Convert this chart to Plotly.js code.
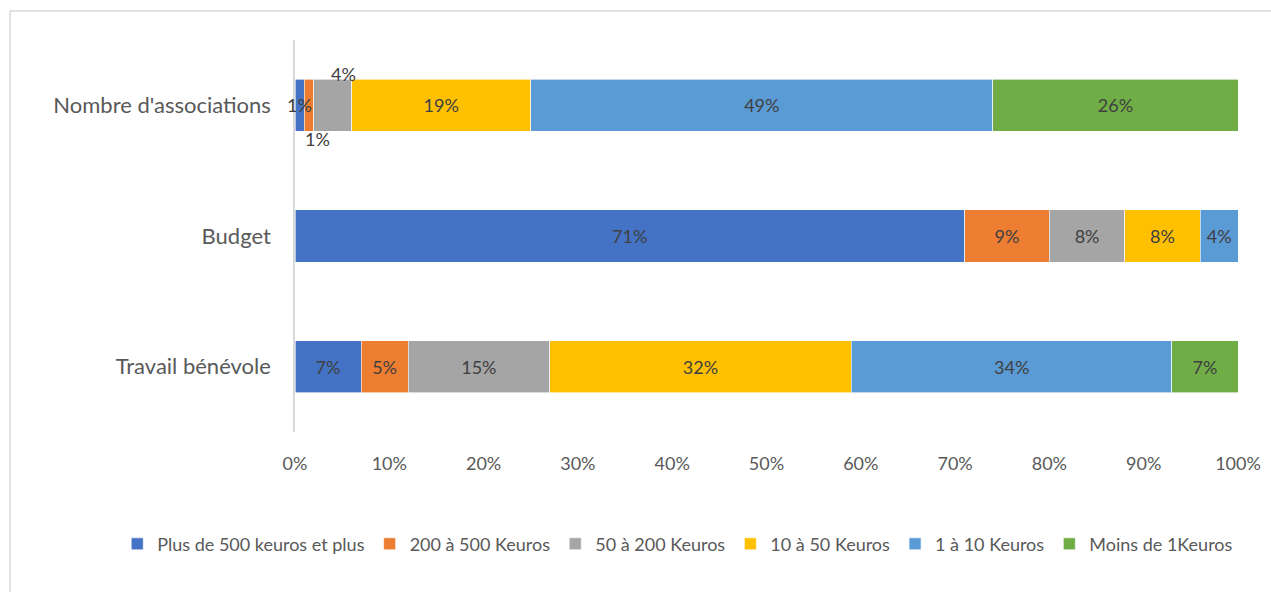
<!DOCTYPE html>
<html>
<head>
<meta charset="utf-8">
<script src="https://cdn.plot.ly/plotly-3.0.1.min.js"></script>
<style>html,body{margin:0;padding:0;background:#fff;}#chart{width:1271px;height:592px;}</style>
</head>
<body>
<div id="chart"></div>
<script>
const categories = ["Nombre d'associations", "Budget", "Travail bénévole"];
const seriesNames = ["Plus de 500 keuros et plus", "200 à 500 Keuros", "50 à 200 Keuros", "10 à 50 Keuros", "1 à 10 Keuros", "Moins de 1Keuros"];
const plus500 = [1, 71, 7];
const k200to500 = [1, 9, 5];
const k50to200 = [4, 8, 15];
const k10to50 = [19, 8, 32];
const k1to10 = [49, 4, 34];
const moins1 = [26, 0, 7];
const tickLabels = ["0%", "10%", "20%", "30%", "40%", "50%", "60%", "70%", "80%", "90%", "100%"];
const tickVals = [0, 10, 20, 30, 40, 50, 60, 70, 80, 90, 100];

const series = [plus500, k200to500, k50to200, k10to50, k1to10, moins1];
const colors = ["#4472C4", "#ED7D31", "#A5A5A5", "#FFC000", "#5B9BD5", "#70AD47"];
const FONT = "Lato, 'Liberation Sans', sans-serif";

// Labels placed outside for the tiny segments of the first row
const smallLabelShift = {"0": {x: 0, y: 0}, "1": {x: 8, y: -34}, "2": {x: 11, y: 31}};

const traces = series.map((vals, i) => {
  const text = vals.map((v, j) => {
    if (v === 0) return "";
    if (j === 0 && i <= 2) return "";
    return v + "%";
  });
  return {
    type: "bar",
    orientation: "h",
    name: seriesNames[i],
    y: categories,
    x: vals,
    text: text,
    textposition: "inside",
    insidetextanchor: "middle",
    textangle: 0,
    constraintext: "none",
    textfont: {family: FONT, size: 18, color: "#404040"},
    marker: {color: colors[i], line: {color: "#ffffff", width: 0.6}},
    hoverinfo: "name+x"
  };
});

const annotations = [];
let cum = 0;
for (let i = 0; i <= 2; i++) {
  const v = series[i][0];
  annotations.push({
    x: cum + v / 2, y: categories[0], xref: "x", yref: "y",
    text: v + "%", showarrow: false,
    xshift: smallLabelShift[i].x, yshift: smallLabelShift[i].y,
    font: {family: FONT, size: 18, color: "#404040"}
  });
  cum += v;
}

const layout = {
  width: 1271, height: 592,
  margin: {l: 295, r: 33, t: 40, b: 160},
  barmode: "stack",
  bargap: 0.6,
  paper_bgcolor: "#ffffff",
  plot_bgcolor: "#ffffff",
  font: {family: FONT, color: "#595959"},
  showlegend: true,
  legend: {
    orientation: "h", x: -0.1885, xanchor: "left",
    y: -0.286, yanchor: "middle",
    font: {family: FONT, size: 18, color: "#595959"},
    traceorder: "normal", itemwidth: 30
  },
  xaxis: {
    range: [0, 100], tickvals: tickVals, ticktext: tickLabels,
    showgrid: false, zeroline: false, showline: false,
    tickfont: {family: FONT, size: 18, color: "#595959"},
    ticks: "outside", ticklen: 15, tickcolor: "rgba(0,0,0,0)",
    fixedrange: true
  },
  yaxis: {
    autorange: "reversed", showgrid: false, zeroline: false,
    showline: true, linecolor: "#d9d9d9", linewidth: 1.5,
    tickfont: {family: FONT, size: 22, color: "#595959"},
    ticks: "outside", ticklen: 18, tickcolor: "rgba(0,0,0,0)",
    fixedrange: true
  },
  annotations: annotations,
  shapes: [
    {type: "line", xref: "paper", yref: "paper", x0: -0.3022, x1: -0.3022, y0: 1.074, y1: -0.5, line: {color: "#d9d9d9", width: 1.5}},
    {type: "line", xref: "paper", yref: "paper", x0: -0.3022, x1: 1.1, y0: 1.074, y1: 1.074, line: {color: "#d9d9d9", width: 1.5}}
  ]
};

Plotly.newPlot("chart", traces, layout, {displayModeBar: false, staticPlot: false});
</script>
</body>
</html>
